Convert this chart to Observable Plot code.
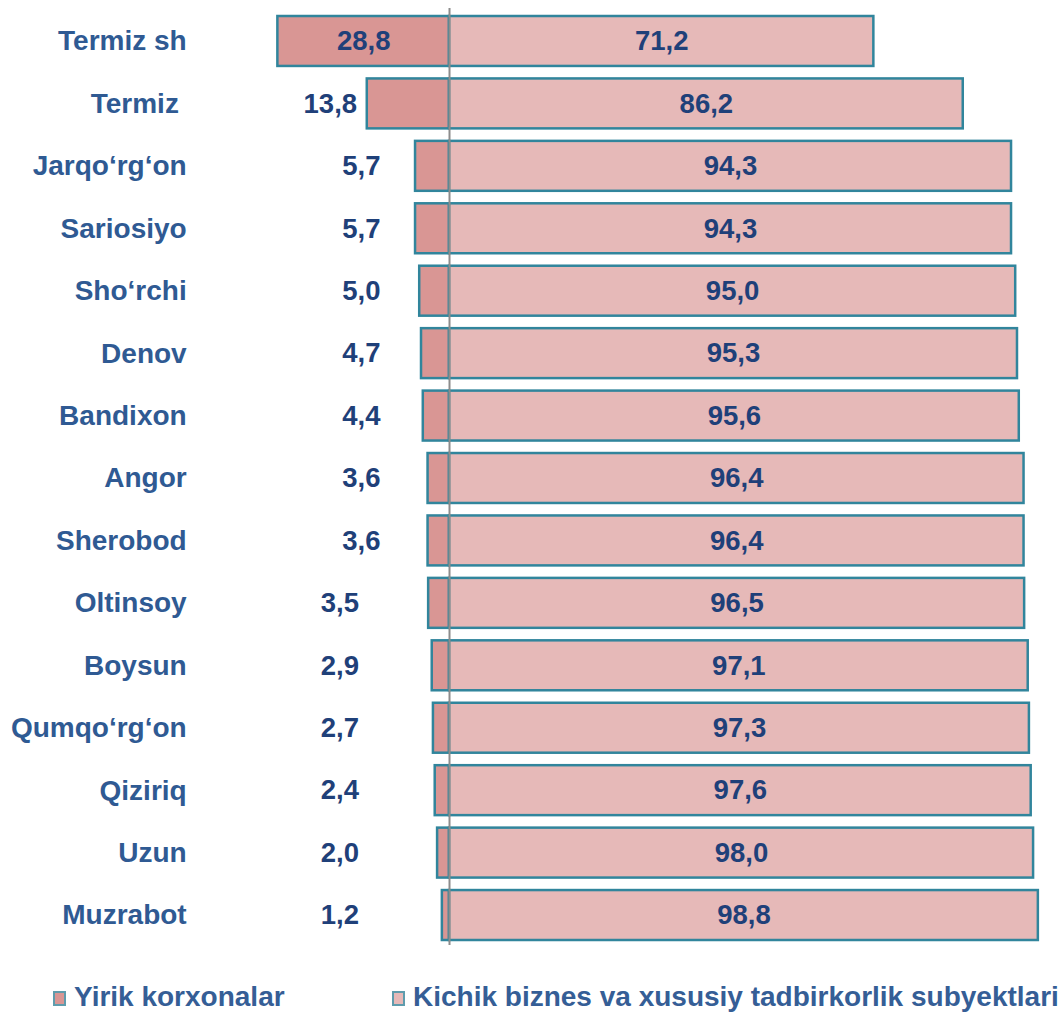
<!DOCTYPE html>
<html>
<head>
<meta charset="utf-8">
<script src="https://cdn.jsdelivr.net/npm/d3@7"></script>
<script src="https://cdn.jsdelivr.net/npm/@observablehq/plot@0.6"></script>
<style>
  html, body { margin: 0; padding: 0; background: #fff; }
  body { width: 1063px; height: 1012px; position: relative; overflow: hidden; font-family: "Liberation Sans", Arial, sans-serif; }
  #legend { position: absolute; left: 0; top: 981px; width: 1063px; height: 31px; font-weight: bold; font-size: 28px; color: #355E96; }
  .item { position: absolute; top: 0; display: flex; align-items: center; white-space: nowrap; line-height: 31px; }
  .sw { width: 13px; height: 15px; border: 2px solid #5F9CAD; margin-right: 8px; box-sizing: border-box; margin-top: 4px; }
</style>
</head>
<body>
<div id="chart"></div>
<div id="legend"></div>
<script>
const districts = ["Termiz sh", "Termiz\u00a0", "Jarqo‘rg‘on", "Sariosiyo", "Sho‘rchi", "Denov", "Bandixon", "Angor", "Sherobod", "Oltinsoy", "Boysun", "Qumqo‘rg‘on", "Qiziriq", "Uzun", "Muzrabot"];
const largeShare = [28.8, 13.8, 5.7, 5.7, 5.0, 4.7, 4.4, 3.6, 3.6, 3.5, 2.9, 2.7, 2.4, 2.0, 1.2];
const smallShare = [71.2, 86.2, 94.3, 94.3, 95.0, 95.3, 95.6, 96.4, 96.4, 96.5, 97.1, 97.3, 97.6, 98.0, 98.8];
const seriesNames = ["Yirik korxonalar", "Kichik biznes va xususiy tadbirkorlik subyektlari"];
const colors = ["#D99694", "#E6B9B8"];

const rows = districts.map((d, i) => ({district: d, large: largeShare[i], small: smallShare[i]}));
const fmt = v => d3.format(".1f")(v).replace(".", ",");
const largeLabelX = v => v > 20 ? -v / 2 : v > 10 ? -(v + 6.2) : v >= 3.6 ? -14.8 : -18.4;

const textColor = "#1F4079";
const catColor = "#2F5A93";

const chart = Plot.plot({
  width: 1063,
  height: 960,
  marginLeft: 0, marginRight: 0, marginTop: 0, marginBottom: 0,
  x: {domain: [-75.34, 103.02], range: [0, 1063], axis: null},
  y: {domain: districts, range: [16, 940], paddingInner: 0.2, paddingOuter: 0, round: false, axis: null},
  style: {fontFamily: "'Liberation Sans', Arial, sans-serif", fontWeight: "bold"},
  marks: [
    Plot.barX(rows, {y: "district", x1: d => -d.large, x2: 0, fill: colors[0], stroke: "#31859C", strokeWidth: 2.5}),
    Plot.barX(rows, {y: "district", x1: 0, x2: "small", fill: colors[1], stroke: "#31859C", strokeWidth: 2.5}),
    Plot.ruleX([0], {stroke: "#8C8C8C", strokeWidth: 2, insetTop: 8, insetBottom: 15}),
    Plot.text(rows, {y: "district", x: -44.1, text: "district", textAnchor: "end", fill: catColor, fontSize: 28, fontWeight: "bold"}),
    Plot.text(rows, {y: "district", x: d => largeLabelX(d.large), text: d => fmt(d.large), fill: textColor, fontSize: 27.5, fontWeight: "bold"}),
    Plot.text(rows, {y: "district", x: d => d.small / 2, text: d => fmt(d.small), fill: textColor, fontSize: 27.5, fontWeight: "bold"})
  ]
});
document.getElementById("chart").appendChild(chart);

const legend = document.getElementById("legend");
const lefts = [53, 392];
seriesNames.forEach((name, i) => {
  const item = document.createElement("div");
  item.className = "item";
  item.style.left = lefts[i] + "px";
  const sw = document.createElement("span");
  sw.className = "sw";
  sw.style.background = colors[i];
  const t = document.createElement("span");
  t.textContent = name;
  item.appendChild(sw);
  item.appendChild(t);
  legend.appendChild(item);
});
</script>
</body>
</html>
